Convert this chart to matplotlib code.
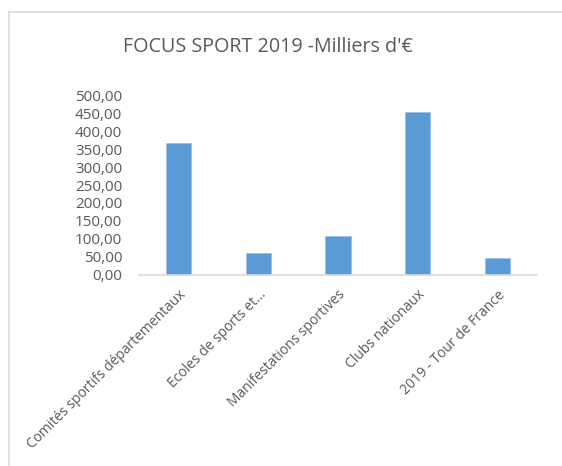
import matplotlib.pyplot as plt
from matplotlib.lines import Line2D

categories = ["Comités sportifs départementaux", "Ecoles de sports et...",
              "Manifestations sportives", "Clubs nationaux", "2019 - Tour de France"]
values = [368.0, 60.0, 108.0, 454.0, 47.0]
yticks = [0, 50, 100, 150, 200, 250, 300, 350, 400, 450, 500]
ytick_labels = [("%.2f" % v).replace(".", ",") for v in yticks]

plt.rcParams['font.family'] = ['Open Sans', 'DejaVu Sans']
text_col = "#595959"

fig = plt.figure(figsize=(5.62, 4.66), dpi=100)
ax = fig.add_axes([0.2473, 0.4099, 0.7082, 0.3862])

ax.bar(range(len(values)), values, width=0.315, color="#5B9BD5", edgecolor="#9DC3E6", linewidth=0.6)
ax.set_xlim(-0.5, len(values) - 0.5)
ax.set_ylim(0, 500)
ax.set_yticks(yticks)
ax.set_yticklabels(ytick_labels, fontsize=11, color=text_col)
ax.set_xticks(range(len(categories)))
ax.set_xticklabels(categories, rotation=45, ha="right", va="top", rotation_mode="anchor",
                   fontsize=10, color=text_col)
ax.tick_params(axis="both", length=0)
ax.tick_params(axis="y", pad=12)
ax.tick_params(axis="x", pad=9)
for s in ["top", "right", "left"]:
    ax.spines[s].set_visible(False)
ax.spines["bottom"].set_color("#d9d9d9")
ax.spines["bottom"].set_linewidth(1.2)

fig.text(0.476, 0.90, "FOCUS SPORT 2019 -Milliers d'€", ha="center", va="center",
         fontsize=14.2, color=text_col)

# chart frame
fig.add_artist(Line2D([8.5 / 562, 8.5 / 562], [0, 1 - 11.5 / 466], color="#d9d9d9", lw=1.2))
fig.add_artist(Line2D([8.5 / 562, 1], [1 - 11.5 / 466, 1 - 11.5 / 466], color="#d9d9d9", lw=1.2))

fig.savefig("out.png", dpi=100)
